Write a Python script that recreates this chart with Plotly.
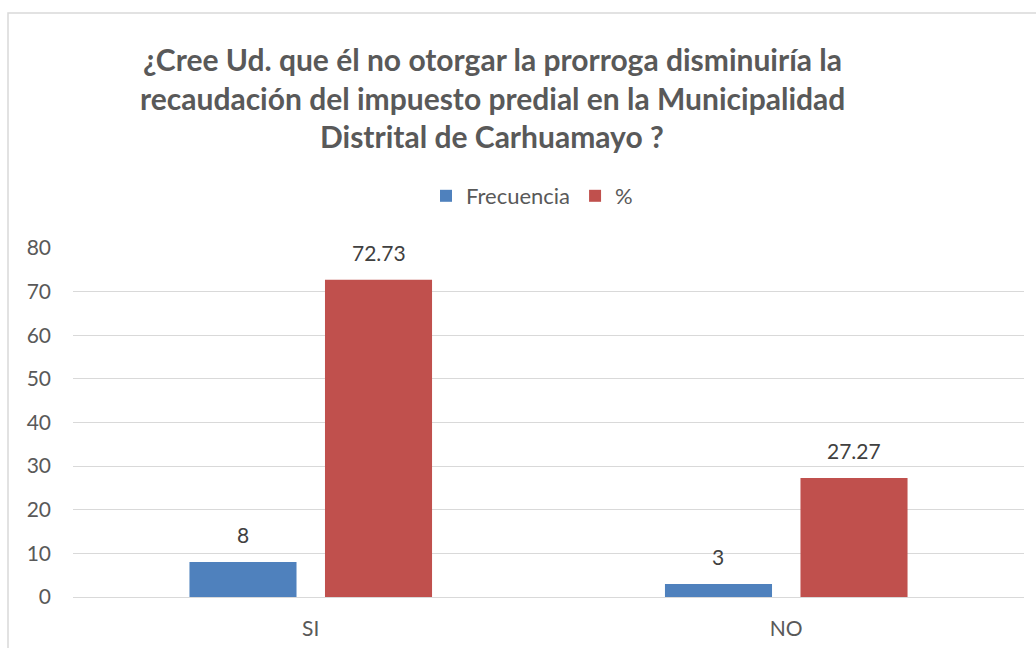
import plotly.graph_objects as go

categories = ["SI", "NO"]
frecuencia = [8, 3]
porcentaje = [72.73, 27.27]
freq_labels = ["8", "3"]
pct_labels = ["72.73", "27.27"]
y_ticks = [0, 10, 20, 30, 40, 50, 60, 70, 80]
title_lines = [
    "¿Cree Ud. que él no otorgar la prorroga disminuiría la",
    "recaudación del impuesto predial en la Municipalidad",
    "Distrital de Carhuamayo ?",
]

W, H = 1036, 648
L, R, T, B = 73, 1024, 248, 597  # plot area pixels
FONT = "Lato"

def px_x(x):
    return (x - L) / (R - L)

def px_y(y):
    return (B - y) / (B - T)

fig = go.Figure()
fig.add_trace(go.Bar(
    x=categories, y=frecuencia, name="Frecuencia",
    marker=dict(color="#4F81BD", line=dict(width=0)),
))
fig.add_trace(go.Bar(
    x=categories, y=porcentaje, name="%",
    marker=dict(color="#C0504D", line=dict(width=0)),
))

annotations = []
for i, line in enumerate(title_lines):
    annotations.append(dict(
        text="<b>" + line + "</b>", xref="paper", yref="paper",
        x=px_x(492), y=px_y(59 + i * 38.5), xanchor="center", yanchor="middle",
        showarrow=False, font=dict(size=30, color="#595959", family=FONT),
    ))

# data labels above bars
for vals, labels, shift in [(frecuencia, freq_labels, -68), (porcentaje, pct_labels, 68)]:
    for c, v, t in zip(categories, vals, labels):
        annotations.append(dict(
            text=t, x=c, y=v, xref="x", yref="y", xanchor="center", yanchor="bottom",
            xshift=shift, yshift=13, showarrow=False,
            font=dict(size=21, color="#404040", family=FONT),
        ))

fig.update_layout(
    width=W, height=H,
    margin=dict(l=L, r=W - R, t=T, b=H - B, pad=0),
    paper_bgcolor="white", plot_bgcolor="white",
    barmode="group", bargap=0.43, bargroupgap=0.21,
    font=dict(family=FONT, size=21, color="#595959"),
    showlegend=True,
    legend=dict(orientation="h", x=px_x(532), xanchor="center", y=px_y(196), yanchor="middle",
                font=dict(size=22, color="#595959"), itemwidth=30, traceorder="normal"),
    annotations=annotations,
    shapes=[dict(type="rect", xref="paper", yref="paper",
                 x0=px_x(8), x1=px_x(1040), y0=px_y(660), y1=px_y(13),
                 line=dict(color="#D9D9D9", width=1.5), fillcolor="rgba(0,0,0,0)", layer="below")],
    xaxis=dict(showgrid=False, showline=False, ticks="", ticklabelstandoff=17, automargin=False,
               tickfont=dict(size=21, color="#595959")),
    yaxis=dict(range=[0, 80], tickvals=y_ticks, showgrid=True, gridcolor="#D9D9D9", gridwidth=1,
               zeroline=True, zerolinecolor="#D9D9D9", zerolinewidth=1, showline=False, automargin=False,
               ticks="", ticklabelstandoff=21, tickfont=dict(size=21, color="#595959")),
)

fig.write_html("out.html", config={"displayModeBar": False},
               post_script="document.body.style.margin='0';")
